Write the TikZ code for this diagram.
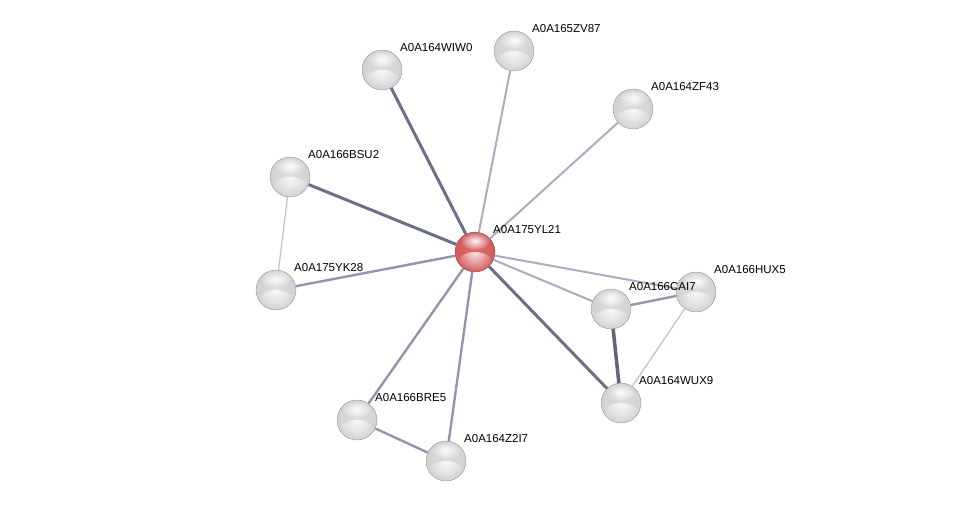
\documentclass[tikz,border=0pt]{standalone}
\usepackage{fontspec}
\setmainfont{Liberation Sans}
\usetikzlibrary{fadings}
\definecolor{grc}{RGB}{222,222,222}
\definecolor{grm}{RGB}{206,206,206}
\definecolor{grr}{RGB}{120,120,120}
\definecolor{rdc}{RGB}{222,108,108}
\definecolor{rdm}{RGB}{206,86,86}
\definecolor{rdr}{RGB}{130,40,40}
\pgfdeclareradialshading{graysph}{\pgfpoint{0bp}{0bp}}{color(0bp)=(grc); color(32bp)=(grm); color(42bp)=(grm!75!grr); color(50bp)=(grr)}
\pgfdeclareradialshading{redsph}{\pgfpoint{0bp}{0bp}}{color(0bp)=(rdc); color(32bp)=(rdm); color(42bp)=(rdm!75!rdr); color(50bp)=(rdr)}
\tikzfading[name=softspot, inner color=transparent!0, outer color=transparent!100]
\begin{document}
\begin{tikzpicture}[x=1pt,y=-1pt,
  gloss/.style={path picture={
     \fill[white,opacity=0.8,path fading=softspot]
       ([yshift=-10pt]path picture bounding box.center) ellipse [x radius=17pt,y radius=10pt];
     \fill[white,opacity=0.95,path fading=softspot]
       ([yshift=11pt]path picture bounding box.center) ellipse [x radius=15pt,y radius=9pt];}},
  prot/.style={circle,minimum size=40pt,inner sep=0pt,shading=graysph,gloss,draw=grr!90,line width=0.3pt},
  hub/.style={circle,minimum size=40pt,inner sep=0pt,shading=redsph,gloss,draw=rdr!90,line width=0.3pt},
  lbl/.style={anchor=south west,inner sep=0pt,font=\fontsize{11.5}{12}\selectfont},
  edark/.style={draw={rgb,255:red,106;green,112;blue,136},line width=3pt},
  edarker/.style={draw={rgb,255:red,95;green,100;blue,125},line width=3.5pt},
  emed/.style={draw={rgb,255:red,146;green,150;blue,172},line width=2.4pt},
  elight/.style={draw={rgb,255:red,170;green,173;blue,192},line width=2pt},
  ethin/.style={draw={rgb,255:red,190;green,192;blue,208},line width=1.2pt}]
\useasboundingbox (0,0) rectangle (976,506);
% nodes
\node[hub]  (c)    at (475,252) {};
\node[prot] (wiw0) at (382,70) {};
\node[prot] (zv87) at (514,51) {};
\node[prot] (zf43) at (633,109) {};
\node[prot] (bsu2) at (290,177) {};
\node[prot] (yk28) at (276,290) {};
\node[prot] (hux5) at (696,292) {};
\node[prot] (cai7) at (611,309) {};
\node[prot] (wux9) at (621,403) {};
\node[prot] (bre5) at (357,420) {};
\node[prot] (z2i7) at (446,461) {};
% edges
\path[edark]  (c) -- (wiw0);
\path[elight] (c) -- (zv87);
\path[elight] (c) -- (zf43);
\path[edark]  (c) -- (bsu2);
\path[emed]   (c) -- (yk28);
\path[elight] (c) -- (hux5);
\path[elight] (c) -- (cai7);
\path[edark]  (c) -- (wux9);
\path[emed]   (c) -- (bre5);
\path[emed]   (c) -- (z2i7);
\path[ethin]  (bsu2) -- (yk28);
\path[emed]   (cai7) -- (hux5);
\path[edarker] (cai7) -- (wux9);
\path[ethin]  (hux5) -- (wux9);
\path[emed]   (bre5) -- (z2i7);
% labels
\node[lbl] (lc)    at ([xshift=18pt,yshift=18pt]c.center) {A0A175YL21};
\node[lbl] (lwiw0) at ([xshift=18pt,yshift=18pt]wiw0.center) {A0A164WIW0};
\node[lbl] (lzv87) at ([xshift=18pt,yshift=18pt]zv87.center) {A0A165ZV87};
\node[lbl] (lzf43) at ([xshift=18pt,yshift=18pt]zf43.center) {A0A164ZF43};
\node[lbl] (lbsu2) at ([xshift=18pt,yshift=18pt]bsu2.center) {A0A166BSU2};
\node[lbl] (lyk28) at ([xshift=18pt,yshift=18pt]yk28.center) {A0A175YK28};
\node[lbl] (lhux5) at ([xshift=18pt,yshift=18pt]hux5.center) {A0A166HUX5};
\node[lbl] (lcai7) at ([xshift=18pt,yshift=18pt]cai7.center) {A0A166CAI7};
\node[lbl] (lwux9) at ([xshift=18pt,yshift=18pt]wux9.center) {A0A164WUX9};
\node[lbl] (lbre5) at ([xshift=18pt,yshift=18pt]bre5.center) {A0A166BRE5};
\node[lbl] (lz2i7) at ([xshift=18pt,yshift=18pt]z2i7.center) {A0A164Z2I7};
\end{tikzpicture}
\end{document}
